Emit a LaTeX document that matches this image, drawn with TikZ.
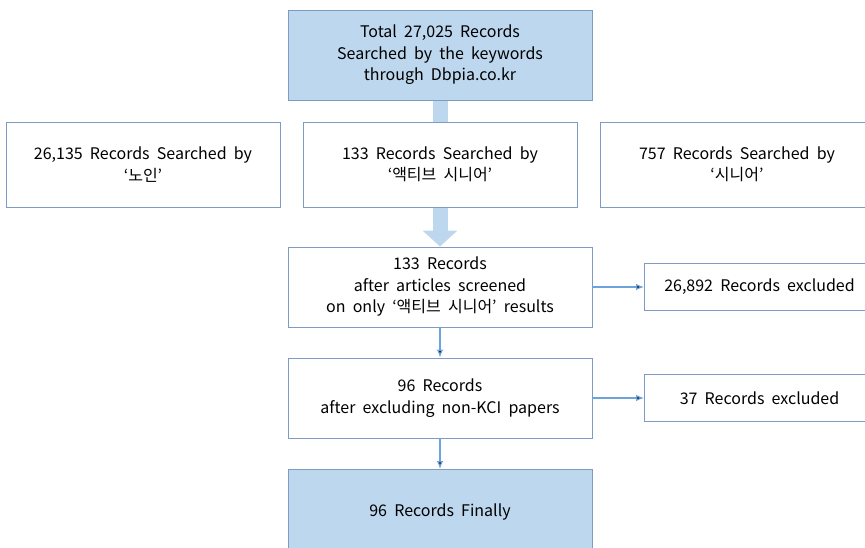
\documentclass[tikz,border=0pt]{standalone}
\usepackage{fontspec}
\setmainfont[WordSpace=2]{Noto Sans CJK KR}
\usetikzlibrary{positioning,arrows.meta,backgrounds}
\definecolor{boxfill}{HTML}{BDD7EE}
\definecolor{boxline}{HTML}{7E9CC1}
\definecolor{arrline}{HTML}{6CA3DB}
\tikzset{
  rec/.style    = { draw=boxline, line width=0.9pt, fill=white, align=center,
    font=\fontsize{16}{21.5}\selectfont, inner sep=0pt },
  widebox/.style = { rec, minimum width=304pt },
  sidebox/.style = { rec, minimum width=274pt, minimum height=85pt },
  exclbox/.style = { rec, minimum width=230pt, minimum height=47pt },
  hl/.style     = { fill=boxfill },
  flow/.style   = { draw=arrline, line width=1.2pt, -{Latex[length=8pt,width=6.5pt]} },
  bigarr/.style = { draw=boxfill, line width=15pt, -{Triangle[length=16pt,width=34pt]} }
}

\begin{document}
\begin{tikzpicture}[x=1pt,y=1pt,node distance=1cm,on grid]
    \useasboundingbox (0,0) rectangle (865,-548);
    \node[widebox, hl, minimum height=90pt] (total) at (440,-55)
      {Total 27,025 Records\\Searched by the keywords\\through Dbpia.co.kr};
    \node[sidebox, below=109.5pt of total] (srch2) {133 Records Searched by\\‘액티브 시니어’};
    \node[sidebox, left=297pt of srch2] (srch1) {26,135 Records Searched by\\‘노인’};
    \node[sidebox, right=297pt of srch2] (srch3) {757 Records Searched by\\‘시니어’};
    \node[widebox, minimum height=80pt, below=122.5pt of srch2] (screen)
      {133 Records\\after articles screened\\on only ‘액티브 시니어’ results};
    \node[exclbox, right=319.5pt of screen] (excl1) {26,892 Records excluded};
    \node[widebox, minimum height=80pt, below=111pt of screen] (kci)
      {96 Records\\after excluding non-KCI papers};
    \node[exclbox, right=319.5pt of kci] (excl2) {37 Records excluded};
    \node[widebox, hl, minimum height=85pt, below=114pt of kci] (final) {96 Records Finally};

    % broad arrow behind the search boxes
    \begin{scope}[on background layer]
      \draw[bigarr] (total.south) -- (screen.north);
    \end{scope}
    \path[flow] (screen) edge (excl1);
    \path[flow] (screen) edge (kci);
    \path[flow] (kci) edge (excl2);
    \path[flow] (kci) edge (final);
\end{tikzpicture}
\end{document}
